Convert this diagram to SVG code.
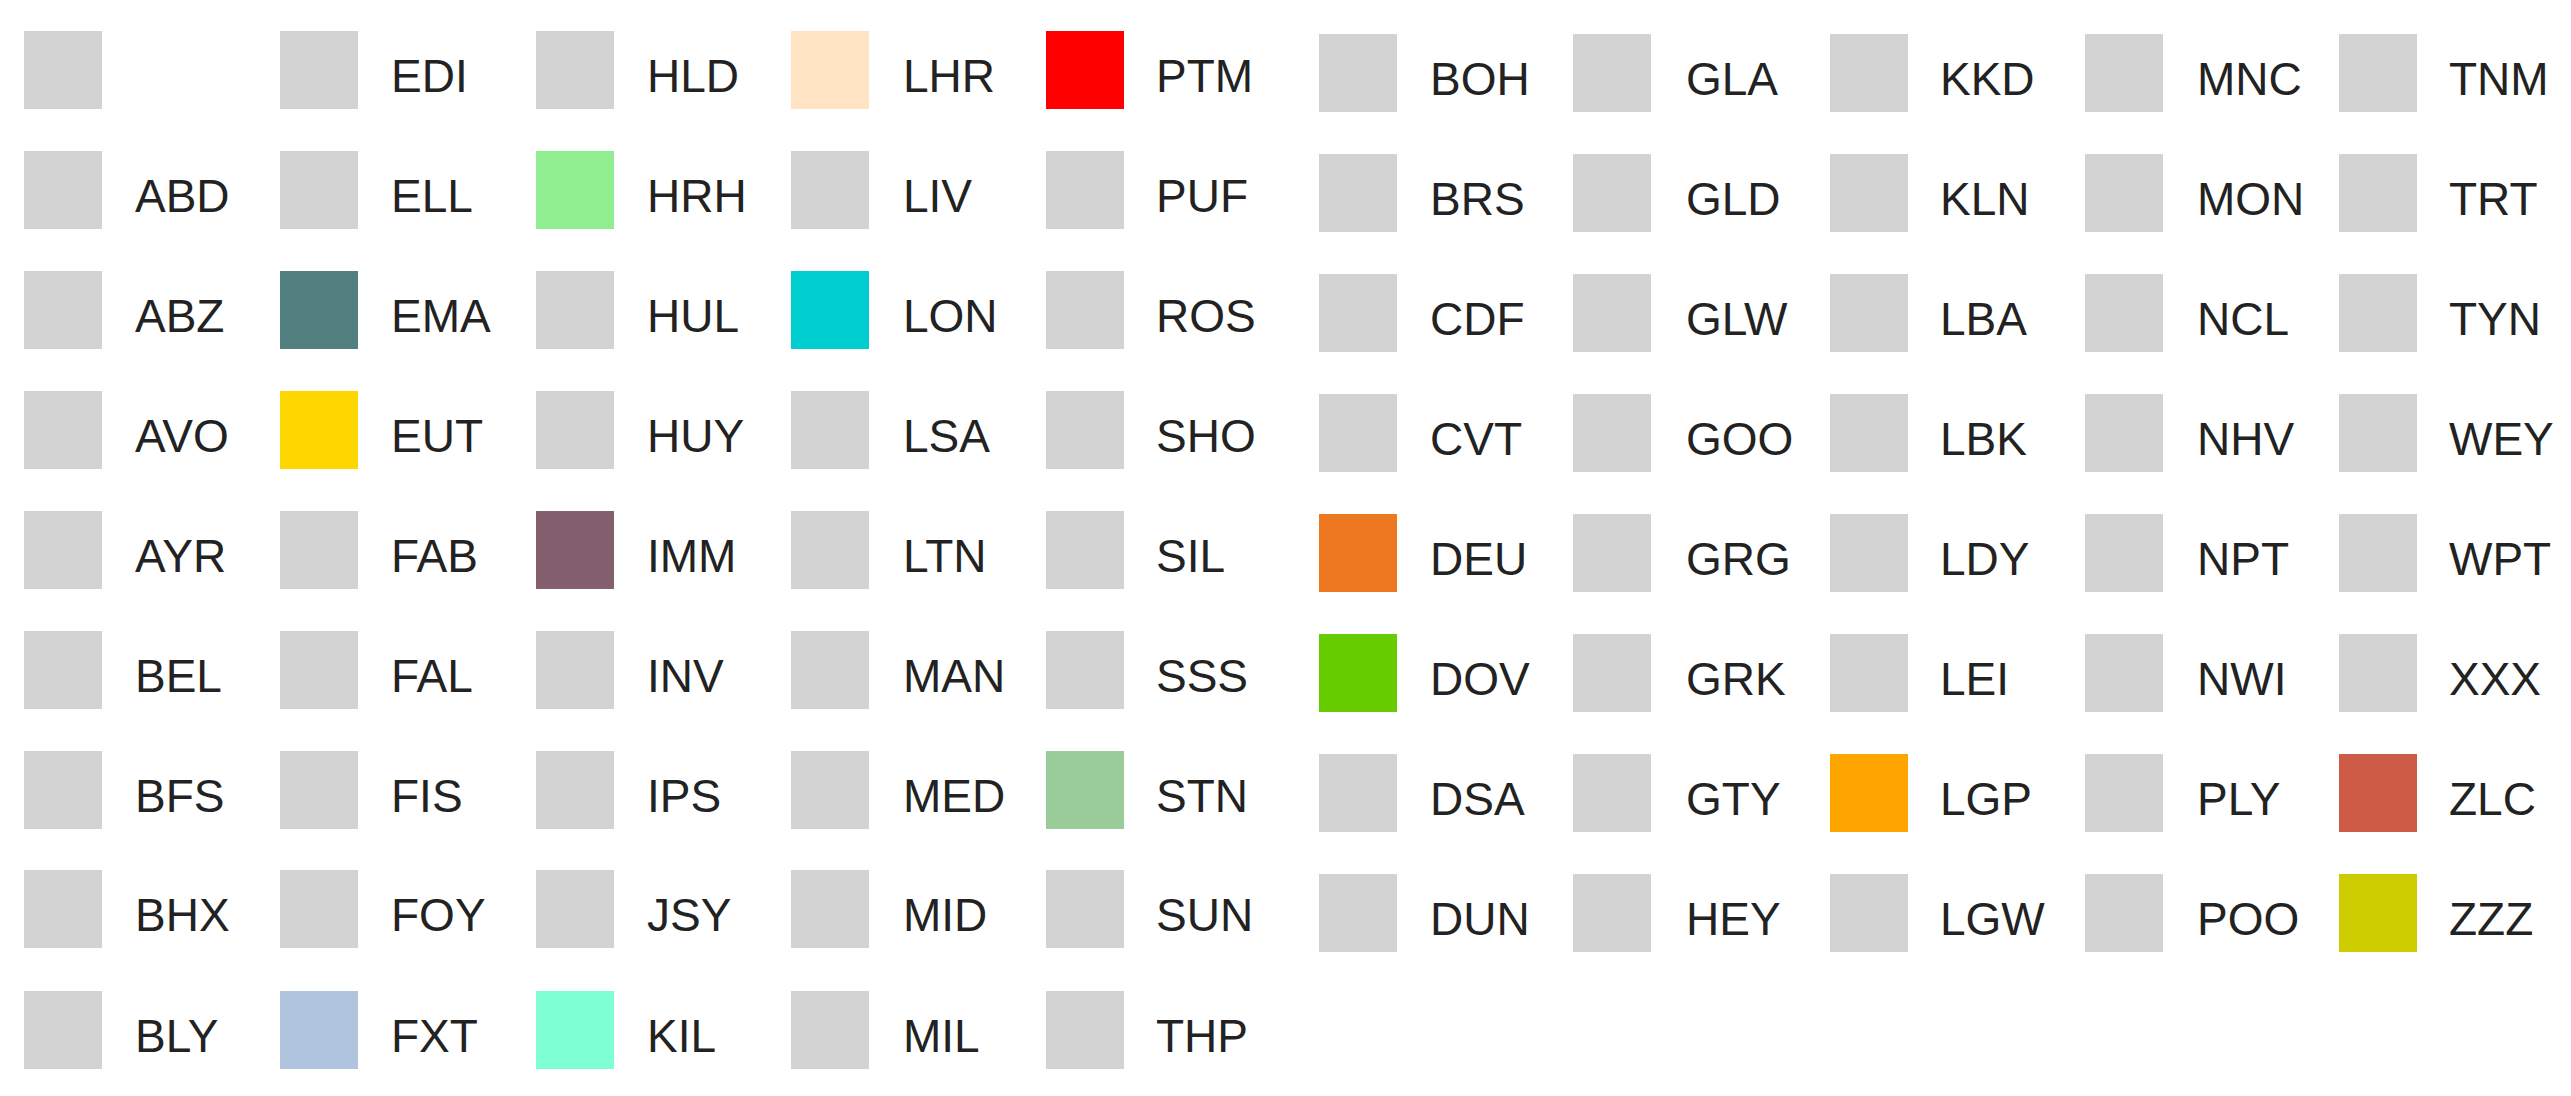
<svg xmlns="http://www.w3.org/2000/svg" width="2571" height="1096" viewBox="0 0 2571 1096">
<style>
rect{fill:#d3d3d3}
text{font-family:"Liberation Sans",Arial,sans-serif;font-size:46px;fill:#222}
</style>
<rect x="0" y="0" width="2571" height="1096" style="fill:#fff"/>
<g id="legend-left">
<g id="n-blank"><rect x="24" y="31" width="78" height="78"/></g>
<g id="n-ABD"><rect x="24" y="151" width="78" height="78"/><text x="135" y="212">ABD</text></g>
<g id="n-ABZ"><rect x="24" y="271" width="78" height="78"/><text x="135" y="332">ABZ</text></g>
<g id="n-AVO"><rect x="24" y="391" width="78" height="78"/><text x="135" y="452">AVO</text></g>
<g id="n-AYR"><rect x="24" y="511" width="78" height="78"/><text x="135" y="572">AYR</text></g>
<g id="n-BEL"><rect x="24" y="631" width="78" height="78"/><text x="135" y="692">BEL</text></g>
<g id="n-BFS"><rect x="24" y="751" width="78" height="78"/><text x="135" y="812">BFS</text></g>
<g id="n-BHX"><rect x="24" y="870" width="78" height="78"/><text x="135" y="931">BHX</text></g>
<g id="n-BLY"><rect x="24" y="991" width="78" height="78"/><text x="135" y="1052">BLY</text></g>

<g id="n-EDI"><rect x="280" y="31" width="78" height="78"/><text x="391" y="92">EDI</text></g>
<g id="n-ELL"><rect x="280" y="151" width="78" height="78"/><text x="391" y="212">ELL</text></g>
<g id="n-EMA"><rect x="280" y="271" width="78" height="78" style="fill:#528080"/><text x="391" y="332">EMA</text></g>
<g id="n-EUT"><rect x="280" y="391" width="78" height="78" style="fill:#ffd700"/><text x="391" y="452">EUT</text></g>
<g id="n-FAB"><rect x="280" y="511" width="78" height="78"/><text x="391" y="572">FAB</text></g>
<g id="n-FAL"><rect x="280" y="631" width="78" height="78"/><text x="391" y="692">FAL</text></g>
<g id="n-FIS"><rect x="280" y="751" width="78" height="78"/><text x="391" y="812">FIS</text></g>
<g id="n-FOY"><rect x="280" y="870" width="78" height="78"/><text x="391" y="931">FOY</text></g>
<g id="n-FXT"><rect x="280" y="991" width="78" height="78" style="fill:#b0c4de"/><text x="391" y="1052">FXT</text></g>

<g id="n-HLD"><rect x="536" y="31" width="78" height="78"/><text x="647" y="92">HLD</text></g>
<g id="n-HRH"><rect x="536" y="151" width="78" height="78" style="fill:#90ee90"/><text x="647" y="212">HRH</text></g>
<g id="n-HUL"><rect x="536" y="271" width="78" height="78"/><text x="647" y="332">HUL</text></g>
<g id="n-HUY"><rect x="536" y="391" width="78" height="78"/><text x="647" y="452">HUY</text></g>
<g id="n-IMM"><rect x="536" y="511" width="78" height="78" style="fill:#84606f"/><text x="647" y="572">IMM</text></g>
<g id="n-INV"><rect x="536" y="631" width="78" height="78"/><text x="647" y="692">INV</text></g>
<g id="n-IPS"><rect x="536" y="751" width="78" height="78"/><text x="647" y="812">IPS</text></g>
<g id="n-JSY"><rect x="536" y="870" width="78" height="78"/><text x="647" y="931">JSY</text></g>
<g id="n-KIL"><rect x="536" y="991" width="78" height="78" style="fill:#7fffd4"/><text x="647" y="1052">KIL</text></g>

<g id="n-LHR"><rect x="791" y="31" width="78" height="78" style="fill:#ffe4c4"/><text x="903" y="92">LHR</text></g>
<g id="n-LIV"><rect x="791" y="151" width="78" height="78"/><text x="903" y="212">LIV</text></g>
<g id="n-LON"><rect x="791" y="271" width="78" height="78" style="fill:#00ced1"/><text x="903" y="332">LON</text></g>
<g id="n-LSA"><rect x="791" y="391" width="78" height="78"/><text x="903" y="452">LSA</text></g>
<g id="n-LTN"><rect x="791" y="511" width="78" height="78"/><text x="903" y="572">LTN</text></g>
<g id="n-MAN"><rect x="791" y="631" width="78" height="78"/><text x="903" y="692">MAN</text></g>
<g id="n-MED"><rect x="791" y="751" width="78" height="78"/><text x="903" y="812">MED</text></g>
<g id="n-MID"><rect x="791" y="870" width="78" height="78"/><text x="903" y="931">MID</text></g>
<g id="n-MIL"><rect x="791" y="991" width="78" height="78"/><text x="903" y="1052">MIL</text></g>

<g id="n-PTM"><rect x="1046" y="31" width="78" height="78" style="fill:#ff0000"/><text x="1156" y="92">PTM</text></g>
<g id="n-PUF"><rect x="1046" y="151" width="78" height="78"/><text x="1156" y="212">PUF</text></g>
<g id="n-ROS"><rect x="1046" y="271" width="78" height="78"/><text x="1156" y="332">ROS</text></g>
<g id="n-SHO"><rect x="1046" y="391" width="78" height="78"/><text x="1156" y="452">SHO</text></g>
<g id="n-SIL"><rect x="1046" y="511" width="78" height="78"/><text x="1156" y="572">SIL</text></g>
<g id="n-SSS"><rect x="1046" y="631" width="78" height="78"/><text x="1156" y="692">SSS</text></g>
<g id="n-STN"><rect x="1046" y="751" width="78" height="78" style="fill:#99cc99"/><text x="1156" y="812">STN</text></g>
<g id="n-SUN"><rect x="1046" y="870" width="78" height="78"/><text x="1156" y="931">SUN</text></g>
<g id="n-THP"><rect x="1046" y="991" width="78" height="78"/><text x="1156" y="1052">THP</text></g>
</g>
<g id="legend-right">
<g id="n-BOH"><rect x="1319" y="34" width="78" height="78"/><text x="1430" y="95">BOH</text></g>
<g id="n-BRS"><rect x="1319" y="154" width="78" height="78"/><text x="1430" y="215">BRS</text></g>
<g id="n-CDF"><rect x="1319" y="274" width="78" height="78"/><text x="1430" y="335">CDF</text></g>
<g id="n-CVT"><rect x="1319" y="394" width="78" height="78"/><text x="1430" y="455">CVT</text></g>
<g id="n-DEU"><rect x="1319" y="514" width="78" height="78" style="fill:#ee7722"/><text x="1430" y="575">DEU</text></g>
<g id="n-DOV"><rect x="1319" y="634" width="78" height="78" style="fill:#66cc00"/><text x="1430" y="695">DOV</text></g>
<g id="n-DSA"><rect x="1319" y="754" width="78" height="78"/><text x="1430" y="815">DSA</text></g>
<g id="n-DUN"><rect x="1319" y="874" width="78" height="78"/><text x="1430" y="935">DUN</text></g>

<g id="n-GLA"><rect x="1573" y="34" width="78" height="78"/><text x="1686" y="95">GLA</text></g>
<g id="n-GLD"><rect x="1573" y="154" width="78" height="78"/><text x="1686" y="215">GLD</text></g>
<g id="n-GLW"><rect x="1573" y="274" width="78" height="78"/><text x="1686" y="335">GLW</text></g>
<g id="n-GOO"><rect x="1573" y="394" width="78" height="78"/><text x="1686" y="455">GOO</text></g>
<g id="n-GRG"><rect x="1573" y="514" width="78" height="78"/><text x="1686" y="575">GRG</text></g>
<g id="n-GRK"><rect x="1573" y="634" width="78" height="78"/><text x="1686" y="695">GRK</text></g>
<g id="n-GTY"><rect x="1573" y="754" width="78" height="78"/><text x="1686" y="815">GTY</text></g>
<g id="n-HEY"><rect x="1573" y="874" width="78" height="78"/><text x="1686" y="935">HEY</text></g>

<g id="n-KKD"><rect x="1830" y="34" width="78" height="78"/><text x="1940" y="95">KKD</text></g>
<g id="n-KLN"><rect x="1830" y="154" width="78" height="78"/><text x="1940" y="215">KLN</text></g>
<g id="n-LBA"><rect x="1830" y="274" width="78" height="78"/><text x="1940" y="335">LBA</text></g>
<g id="n-LBK"><rect x="1830" y="394" width="78" height="78"/><text x="1940" y="455">LBK</text></g>
<g id="n-LDY"><rect x="1830" y="514" width="78" height="78"/><text x="1940" y="575">LDY</text></g>
<g id="n-LEI"><rect x="1830" y="634" width="78" height="78"/><text x="1940" y="695">LEI</text></g>
<g id="n-LGP"><rect x="1830" y="754" width="78" height="78" style="fill:#ffa500"/><text x="1940" y="815">LGP</text></g>
<g id="n-LGW"><rect x="1830" y="874" width="78" height="78"/><text x="1940" y="935">LGW</text></g>

<g id="n-MNC"><rect x="2085" y="34" width="78" height="78"/><text x="2197" y="95">MNC</text></g>
<g id="n-MON"><rect x="2085" y="154" width="78" height="78"/><text x="2197" y="215">MON</text></g>
<g id="n-NCL"><rect x="2085" y="274" width="78" height="78"/><text x="2197" y="335">NCL</text></g>
<g id="n-NHV"><rect x="2085" y="394" width="78" height="78"/><text x="2197" y="455">NHV</text></g>
<g id="n-NPT"><rect x="2085" y="514" width="78" height="78"/><text x="2197" y="575">NPT</text></g>
<g id="n-NWI"><rect x="2085" y="634" width="78" height="78"/><text x="2197" y="695">NWI</text></g>
<g id="n-PLY"><rect x="2085" y="754" width="78" height="78"/><text x="2197" y="815">PLY</text></g>
<g id="n-POO"><rect x="2085" y="874" width="78" height="78"/><text x="2197" y="935">POO</text></g>

<g id="n-TNM"><rect x="2339" y="34" width="78" height="78"/><text x="2449" y="95">TNM</text></g>
<g id="n-TRT"><rect x="2339" y="154" width="78" height="78"/><text x="2449" y="215">TRT</text></g>
<g id="n-TYN"><rect x="2339" y="274" width="78" height="78"/><text x="2449" y="335">TYN</text></g>
<g id="n-WEY"><rect x="2339" y="394" width="78" height="78"/><text x="2449" y="455">WEY</text></g>
<g id="n-WPT"><rect x="2339" y="514" width="78" height="78"/><text x="2449" y="575">WPT</text></g>
<g id="n-XXX"><rect x="2339" y="634" width="78" height="78"/><text x="2449" y="695">XXX</text></g>
<g id="n-ZLC"><rect x="2339" y="754" width="78" height="78" style="fill:#cd5b45"/><text x="2449" y="815">ZLC</text></g>
<g id="n-ZZZ"><rect x="2339" y="874" width="78" height="78" style="fill:#cccc00"/><text x="2449" y="935">ZZZ</text></g>
</g>
<g id="connectors"/>
</svg>
